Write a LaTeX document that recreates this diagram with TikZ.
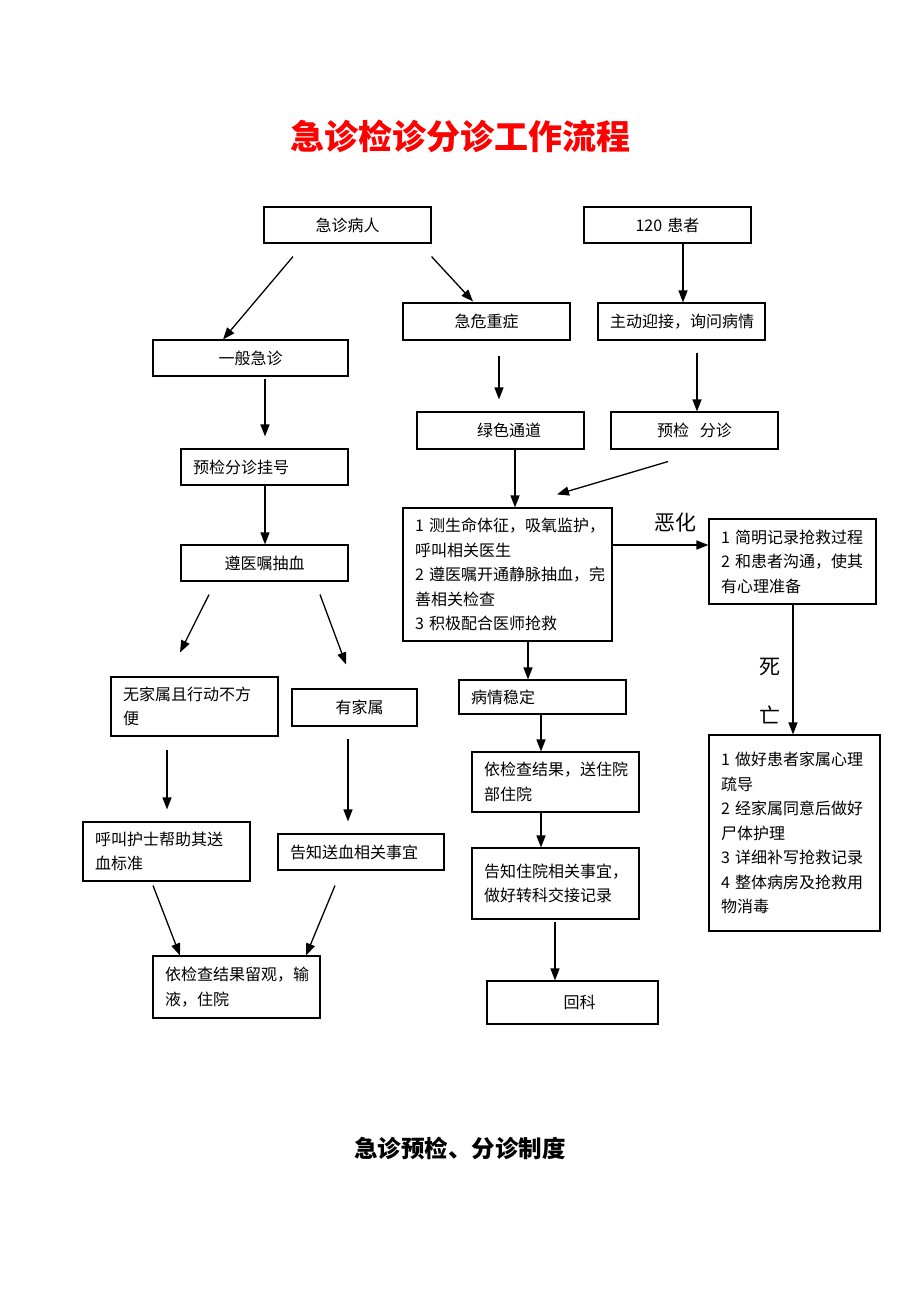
\documentclass[tikz,border=0pt]{standalone}
\usepackage{fontspec}
\setmainfont{Noto Sans CJK SC}
\usetikzlibrary{arrows.meta,calc}
\definecolor{titlered}{RGB}{255,0,0}
\tikzset{
  box/.style={draw=black, line width=1.1pt, inner ysep=0pt, inner xsep=12pt,
    font=\fontsize{16}{24.5}\selectfont, minimum height=#1},
  box/.default=36pt,
  arr/.style={line width=1.3pt, -{Triangle[length=12pt,width=9pt]}},
  lbl/.style={font=\fontsize{21}{24}\selectfont, inner sep=0pt},
}
\begin{document}
\begin{tikzpicture}[x=1pt,y=-1pt]
\useasboundingbox (0,0) rectangle (920,1302);

% titles
\node[font=\fontsize{34}{40}\selectfont\bfseries, text=titlered] (title) at (460,136) {急诊检诊分诊工作流程};
\node[font=\fontsize{23.5}{28}\selectfont\bfseries] (sub) at (460,1148) {急诊预检、分诊制度};

% boxes
\node[box, text width=143pt, align=center] (A) at (347.5,225) {急诊病人};
\node[box, text width=143pt, align=center] (B) at (667.5,225) {120~患者};
\node[box=37pt, text width=143pt, align=center] (C) at (486.5,321.5) {急危重症};
\node[box=37pt, text width=143pt, align=center] (D) at (681.5,321.5) {主动迎接，询问病情};
\node[box, text width=171pt, align=center] (E) at (250.5,358) {一般急诊};
\node[box=37pt, text width=143pt, align=left] (F) at (500.5,430.5) {\hspace*{48pt}绿色通道};
\node[box=37pt, text width=143pt, align=center] (G) at (694.5,430.5) {预检\ \ 分诊};
\node[box, text width=143pt, align=left] (H) at (264.5,467) {预检分诊挂号};
\node[box, text width=143pt, align=center] (I) at (264.5,563) {遵医嘱抽血};
\node[box=133pt, text width=185pt, align=left] (J) at (507.5,574.5)
  {1~测生命体征，吸氧监护，\\呼叫相关医生\\2~遵医嘱开通静脉抽血，完\\善相关检查\\3~积极配合医师抢救};
\node[box=85pt, text width=143pt, align=left] (K) at (792.5,561.5)
  {1~简明记录抢救过程\\2~和患者沟通，使其\\有心理准备};
\node[box=196pt, text width=147pt, align=left] (L) at (794.5,833)
  {1~做好患者家属心理\\疏导\\2~经家属同意后做好\\尸体护理\\3~详细补写抢救记录\\4~整体病房及抢救用\\物消毒\\[4pt]};
\node[box=59pt, text width=143pt, align=left] (M) at (194.5,706.5)
  {无家属且行动不方\\便};
\node[box=37pt, text width=101pt, align=center] (N) at (354.5,707.5) {\hspace*{10pt}有家属};
\node[box=34pt, text width=143pt, align=left] (O) at (542.5,697) {病情稳定};
\node[box=60pt, text width=143pt, align=left] (P) at (555.5,782)
  {依检查结果，送住院\\部住院};
\node[box=59pt, text width=143pt, align=left] (Q) at (166.5,851.5)
  {呼叫护士帮助其送\\血标准};
\node[box, text width=142pt, align=left] (R) at (361,852) {告知送血相关事宜};
\node[box=71pt, text width=143pt, align=left] (S) at (555.5,883.5)
  {告知住院相关事宜，\\做好转科交接记录\\[4pt]};
\node[box=62pt, text width=143pt, align=left] (T) at (236.5,987)
  {依检查结果留观，输\\液，住院};
\node[box=43pt, text width=147pt, align=center] (U) at (572.5,1002.5) {\hspace*{14pt}回科};

% connectors
\draw[arr] ($(A.south)+(-54.5,13)$) -- ($(E.north)+(-27.5,0)$);
\draw[arr] ($(A.south east)+(0,13)$) -- ($(C.north)+(-13.5,-1)$);
\draw[arr] ($(B.south)+(15.5,0)$) -- ($(D.north)+(1.5,0)$);
\draw[arr] ($(C.south)+(12.5,15)$) -- ($(F.north)+(-1.5,-12)$);
\draw[arr] ($(D.south)+(15.5,12)$) -- ($(G.north)+(2.5,0)$);
\draw[arr] ($(E.south)+(14.5,2)$) -- ($(H.north)+(0.5,-12)$);
\draw[arr] ($(H.south)+(0.5,0)$) -- ($(I.north)+(0.5,0)$);
\draw[arr] ($(F.south)+(14.5,0)$) -- ($(J.north)+(7.5,0)$);
\draw[arr] ($(G.south)+(-26.5,12)$) -- ($(J.north)+(49.5,-13)$);
\draw[arr] ($(J.east)+(0,-29.5)$) -- node[lbl, above=12pt, pos=0.66] (wors) {恶化} ($(K.west)+(0,-16.5)$);
\draw[arr] ($(K.south)+(0.5,0)$) -- ($(L.north)+(-1.5,0)$);
\node[lbl] (die1) at (770,667) {死};
\node[lbl] (die2) at (770,715) {亡};
\draw[arr] ($(I.south)+(-55.5,13)$) -- ($(M.north)+(-14.5,-24)$);
\draw[arr] ($(I.south)+(55.5,13)$) -- ($(N.north)+(-8.5,-24)$);
\draw[arr] ($(J.south)+(20.5,0)$) -- ($(O.north)+(-14.5,0)$);
\draw[arr] ($(O.south)+(-1.5,0)$) -- ($(P.north)+(-14.5,0)$);
\draw[arr] ($(P.south)+(-14.5,0)$) -- ($(S.north)+(-14.5,0)$);
\draw[arr] ($(S.south)+(-0.5,2)$) -- ($(U.north)+(-17.5,0)$);
\draw[arr] ($(M.south)+(-27.5,13)$) -- ($(Q.north)+(0.5,-12)$);
\draw[arr] ($(N.south)+(-6.5,12)$) -- ($(R.north)+(-13,-12)$);
\draw[arr] ($(Q.south)+(-13.5,4)$) -- ($(T.north)+(-56.5,0)$);
\draw[arr] ($(R.south)+(-26,15)$) -- ($(T.north)+(69.5,0)$);
\end{tikzpicture}
\end{document}
